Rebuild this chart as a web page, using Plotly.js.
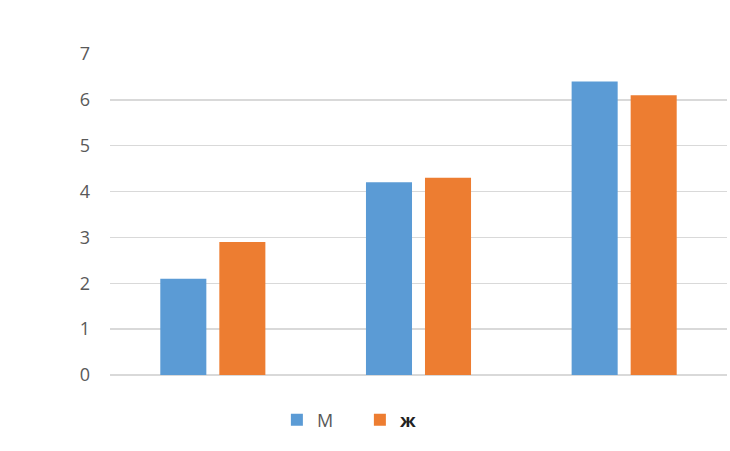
<!DOCTYPE html>
<html>
<head>
<meta charset="utf-8">
<script src="https://cdn.plot.ly/plotly-3.0.1.min.js"></script>
<style>html,body{margin:0;padding:0;background:#fff;}#chart{width:730px;height:451px;}</style>
</head>
<body>
<div id="chart"></div>
<script>
var categories = ["1", "2", "3"];
var seriesNames = ["М", "ж"];
var valuesM = [2.1, 4.2, 6.4];
var valuesZh = [2.9, 4.3, 6.1];
var yTicks = [0, 1, 2, 3, 4, 5, 6, 7];

var traces = [
  {type: "bar", x: categories, y: valuesM, name: seriesNames[0],
   marker: {color: "#5b9bd5"}},
  {type: "bar", x: categories, y: valuesZh,
   name: "<span style='color:#222'><b>" + seriesNames[1] + "</b></span>",
   marker: {color: "#ed7d31"}}
];

var layout = {
  width: 730, height: 451,
  margin: {l: 110, r: 3, t: 53, b: 76},
  paper_bgcolor: "#fff", plot_bgcolor: "#fff",
  font: {family: "Open Sans, sans-serif", color: "#595959", size: 16},
  barmode: "group", bargap: 0.426, bargroupgap: 0.22,
  showlegend: true,
  legend: {orientation: "h", x: 0.405, xanchor: "center", y: -0.14, yanchor: "middle",
           entrywidth: 38, entrywidthmode: "pixels", itemwidth: 30,
           font: {size: 18, color: "#595959"}, traceorder: "normal"},
  xaxis: {showticklabels: false, showgrid: false, zeroline: false, showline: false, ticks: ""},
  yaxis: {range: [0, 7.02], tickvals: yTicks, ticktext: yTicks.map(String),
          showgrid: true, gridcolor: "#d9d9d9", gridwidth: 1.5,
          zeroline: true, zerolinecolor: "#d9d9d9", zerolinewidth: 1.5,
          showline: false, ticks: "", ticklabelstandoff: 19,
          tickfont: {size: 18, color: "#595959"}}
};

Plotly.newPlot("chart", traces, layout, {displayModeBar: false, staticPlot: true});
</script>
</body>
</html>
